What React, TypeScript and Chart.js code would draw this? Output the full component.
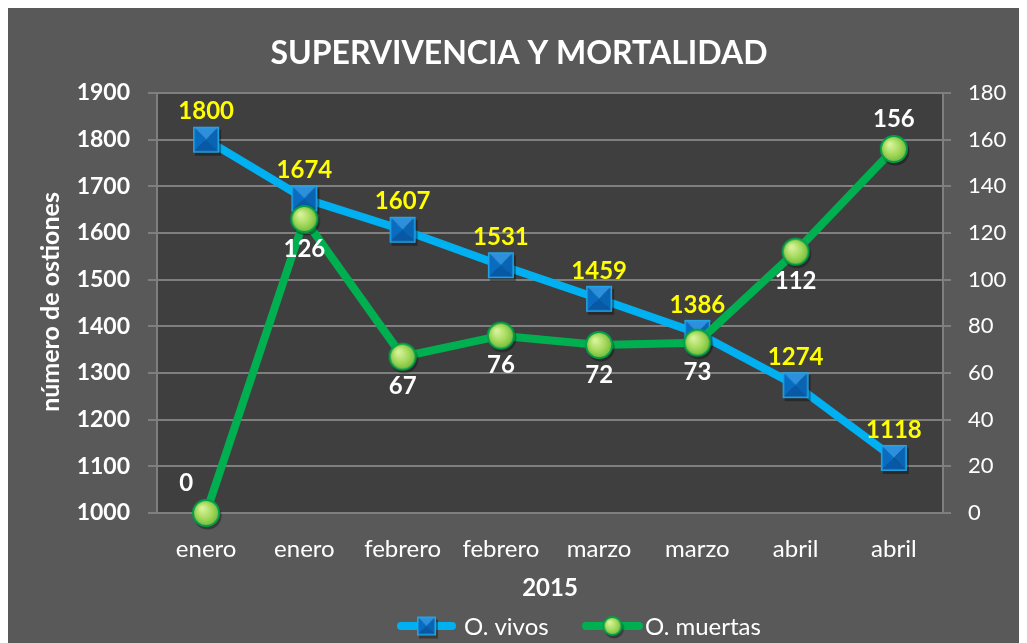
import React, { useEffect, useRef } from "react";
import { Chart, registerables } from "chart.js";

Chart.register(...registerables);

const categories = ["enero", "enero", "febrero", "febrero", "marzo", "marzo", "abril", "abril"];
const vivos = [1800, 1674, 1607, 1531, 1459, 1386, 1274, 1118];
const muertas = [0, 126, 67, 76, 72, 73, 112, 156];
const muertasLabelPos = ["aboveLeft", "below", "below", "below", "below", "below", "below", "above"];
const leftTicks = [1000, 1900, 100];
const rightTicks = [0, 180, 20];
const titleText = "SUPERVIVENCIA Y MORTALIDAD";
const yTitle = "número de ostiones";
const xTitle = "2015";
const seriesNames = ["O. vivos", "O. muertas"];

const FONT = "Lato, 'Open Sans', sans-serif";
const W = 1019;
const H = 635;

function makeSquare(side: number): HTMLCanvasElement {
  const pad = 4;
  const c = document.createElement("canvas");
  c.width = side + pad * 2;
  c.height = side + pad * 2;
  const g = c.getContext("2d")!;
  const x0 = pad, y0 = pad, x1 = pad + side, y1 = pad + side;
  const cx = (x0 + x1) / 2, cy = (y0 + y1) / 2;
  g.fillStyle = "rgba(0,0,0,0.35)";
  g.fillRect(x0 + 2, y0 + 3, side, side);
  const tri = (pts: number[][], col: string) => {
    g.beginPath();
    g.moveTo(pts[0][0], pts[0][1]);
    for (let i = 1; i < pts.length; i++) g.lineTo(pts[i][0], pts[i][1]);
    g.closePath();
    g.fillStyle = col;
    g.fill();
  };
  tri([[x0, y0], [x1, y0], [cx, cy]], "#2E8FDC");
  tri([[x0, y0], [x0, y1], [cx, cy]], "#0A6CC0");
  tri([[x1, y0], [x1, y1], [cx, cy]], "#0A64B4");
  tri([[x0, y1], [x1, y1], [cx, cy]], "#0958A6");
  g.strokeStyle = "#22A6E6";
  g.lineWidth = 1.5;
  g.strokeRect(x0 + 0.75, y0 + 0.75, side - 1.5, side - 1.5);
  return c;
}

function makeBall(r: number): HTMLCanvasElement {
  const pad = 4;
  const c = document.createElement("canvas");
  c.width = r * 2 + pad * 2;
  c.height = r * 2 + pad * 2;
  const g = c.getContext("2d")!;
  const cx = r + pad, cy = r + pad;
  g.beginPath();
  g.arc(cx + 1.5, cy + 2.5, r, 0, Math.PI * 2);
  g.fillStyle = "rgba(0,0,0,0.35)";
  g.fill();
  const grad = g.createRadialGradient(cx - r * 0.3, cy - r * 0.35, r * 0.1, cx, cy, r);
  grad.addColorStop(0, "#D6F29A");
  grad.addColorStop(0.55, "#A3D95A");
  grad.addColorStop(1, "#6DB53A");
  g.beginPath();
  g.arc(cx, cy, r - 1, 0, Math.PI * 2);
  g.fillStyle = grad;
  g.fill();
  g.lineWidth = 2;
  g.strokeStyle = "#00A04A";
  g.stroke();
  return c;
}

export default function App() {
  const ref = useRef<HTMLCanvasElement>(null);

  useEffect(() => {
    const canvas = ref.current!;
    const sq = makeSquare(26);
    const ball = makeBall(14);
    const sqSmall = makeSquare(19);
    const ballSmall = makeBall(10);

    const decor = {
      id: "decor",
      beforeDraw(chart: any) {
        const { ctx, chartArea: a } = chart;
        ctx.save();
        ctx.fillStyle = "#595959";
        ctx.fillRect(0, 0, chart.width, chart.height);
        ctx.fillStyle = "#3F3F3F";
        ctx.fillRect(a.left, a.top, a.right - a.left, a.bottom - a.top);
        ctx.restore();
      },
      afterDraw(chart: any) {
        const { ctx, chartArea: a } = chart;
        ctx.save();
        ctx.fillStyle = "#FFFFFF";
        ctx.textAlign = "center";
        ctx.textBaseline = "middle";
        ctx.font = `bold 32px ${FONT}`;
        ctx.fillText(titleText, 511, 46);
        ctx.font = `bold 24px ${FONT}`;
        ctx.fillText(xTitle, (a.left + a.right) / 2, 580);
        ctx.save();
        ctx.translate(43, 294);
        ctx.rotate(-Math.PI / 2);
        ctx.font = `bold 25px ${FONT}`;
        ctx.fillText(yTitle, 0, 0);
        ctx.restore();

        // legend
        const ly = 618;
        const items = [
          { x0: 389, x1: 448, col: "#00B0F0", img: sqSmall, tx: 456, name: seriesNames[0] },
          { x0: 574, x1: 635, col: "#00B050", img: ballSmall, tx: 637, name: seriesNames[1] },
        ];
        ctx.font = `24px ${FONT}`;
        ctx.textAlign = "left";
        for (const it of items) {
          ctx.beginPath();
          ctx.lineCap = "round";
          ctx.lineWidth = 8;
          ctx.strokeStyle = it.col;
          ctx.moveTo(it.x0 + 4, ly);
          ctx.lineTo(it.x1 - 4, ly);
          ctx.stroke();
          const mx = (it.x0 + it.x1) / 2;
          ctx.drawImage(it.img, mx - it.img.width / 2, ly - it.img.height / 2);
          ctx.fillStyle = "#FFFFFF";
          ctx.fillText(it.name, it.tx, ly + 1);
        }
        ctx.restore();
      },
      afterDatasetsDraw(chart: any) {
        const { ctx } = chart;
        ctx.save();
        ctx.font = `bold 24px ${FONT}`;
        ctx.textAlign = "center";
        ctx.textBaseline = "middle";
        const m0 = chart.getDatasetMeta(0);
        m0.data.forEach((p: any, i: number) => {
          ctx.fillStyle = "#FFFF00";
          ctx.fillText(String(vivos[i]), p.x, p.y - 28);
        });
        const m1 = chart.getDatasetMeta(1);
        m1.data.forEach((p: any, i: number) => {
          ctx.fillStyle = "#FFFFFF";
          const pos = muertasLabelPos[i];
          let dx = 0, dy = 30;
          if (pos === "above") dy = -30;
          if (pos === "aboveLeft") { dx = -20; dy = -30; }
          ctx.fillText(String(muertas[i]), p.x + dx, p.y + dy);
        });
        ctx.restore();
      },
    };

    const chart = new Chart(canvas, {
      type: "line",
      data: {
        labels: categories,
        datasets: [
          {
            label: seriesNames[0],
            data: vivos,
            yAxisID: "y",
            borderColor: "#00B0F0",
            backgroundColor: "#00B0F0",
            borderWidth: 8,
            pointStyle: sq as any,
            pointRadius: 14,
            order: 2,
            clip: false as any,
          },
          {
            label: seriesNames[1],
            data: muertas,
            yAxisID: "y1",
            borderColor: "#00B050",
            backgroundColor: "#00B050",
            borderWidth: 8,
            pointStyle: ball as any,
            pointRadius: 14,
            order: 1,
            clip: false as any,
          },
        ],
      },
      options: {
        responsive: false,
        animation: false,
        devicePixelRatio: 1,
        layout: { padding: { top: 85, left: 0, right: 0, bottom: 0 } },
        plugins: {
          legend: { display: false },
          title: { display: false },
          tooltip: { enabled: false },
        },
        scales: {
          x: {
            offset: true,
            grid: { display: false },
            border: { display: false },
            ticks: { color: "#FFFFFF", font: { family: FONT, size: 24 }, padding: 14, maxRotation: 0, autoSkip: false },
            afterFit: (s: any) => { s.height = 130; },
          },
          y: {
            position: "left",
            min: leftTicks[0],
            max: leftTicks[1],
            ticks: {
              stepSize: leftTicks[2],
              color: "#FFFFFF",
              font: { family: FONT, size: 23, weight: "bold" },
              padding: 18,
              callback: (v: any) => String(v),
            },
            grid: { color: "#7F7F7F", lineWidth: 2, tickLength: 9, drawTicks: true },
            border: { display: true, color: "#7F7F7F", width: 2 },
            afterFit: (s: any) => { s.width = 149; },
          },
          y1: {
            position: "right",
            min: rightTicks[0],
            max: rightTicks[1],
            ticks: { stepSize: rightTicks[2], color: "#FFFFFF", font: { family: FONT, size: 22 }, padding: 17 },
            grid: { color: "#7F7F7F", lineWidth: 2, tickLength: 8, drawOnChartArea: false },
            border: { display: true, color: "#7F7F7F", width: 2 },
            afterFit: (s: any) => { s.width = 84; },
          },
        },
      },
      plugins: [decor],
    });
    return () => chart.destroy();
  }, []);

  return (
    <div style={{ width: W, height: H }}>
      <canvas ref={ref} width={W} height={H} style={{ display: "block" }} />
    </div>
  );
}
